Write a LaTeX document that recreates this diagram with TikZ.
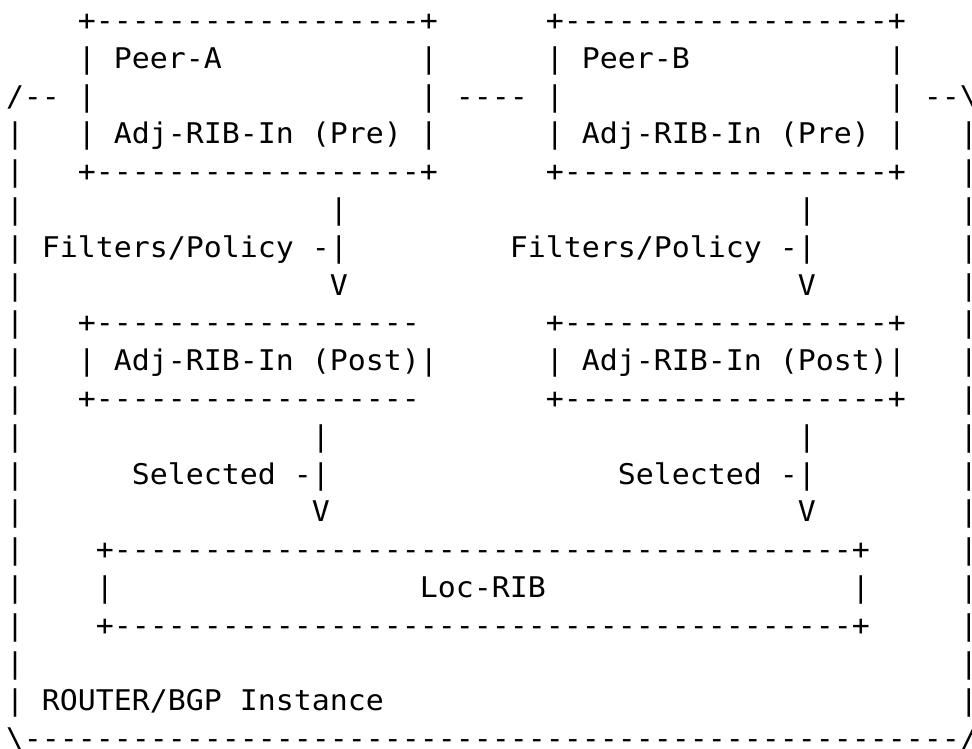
\documentclass[tikz,border=0pt]{standalone}
\usepackage{fontspec}
\newfontfamily\asciifont{DejaVu Sans Mono}[Ligatures=TeXOff, FakeStretch=1.049]
\ExplSyntaxOn
\cs_new:Npn \myrep #1#2 { \prg_replicate:nn {#1} {#2} }
\ExplSyntaxOff
\newlength\cw
\AtBeginDocument{\settowidth{\cw}{\asciifont\fontsize{28.5pt}{37.8pt}\selectfont M}}
\newcommand\bl[1]{\hspace*{#1\cw}}
\newcommand\hy[1]{\myrep{#1}{-}}
\newcommand\lastc[1]{\rlap{#1}}
\tikzset{asciirow/.style={anchor=base west, inner sep=0pt, outer sep=0pt,
  font={\asciifont\fontsize{28.5pt}{37.8pt}\selectfont}, text=black}}
\begin{document}
\begin{tikzpicture}[x=1pt,y=1pt]
\fill[white] (0,0) rectangle (972,748);
\useasboundingbox (0,0) rectangle (972,748);
\node[asciirow] (r0)  at (6,717.5) {\bl{4}+\hy{18}+\bl{6}+\hy{18}+};
\node[asciirow] (r1)  at (6,679.7) {\bl{4}|\bl{1}Peer-A\bl{11}|\bl{6}|\bl{1}Peer-B\bl{11}|};
\node[asciirow] (r2)  at (6,641.9) {/\hy{2}\bl{1}|\bl{18}|\bl{1}\hy{4}\bl{1}|\bl{18}|\bl{1}\hy{2}\lastc{\textbackslash}};
\node[asciirow] (r3)  at (6,604.1) {|\bl{3}|\bl{1}Adj-RIB-In\bl{1}(Pre)\bl{1}|\bl{6}|\bl{1}Adj-RIB-In\bl{1}(Pre)\bl{1}|\bl{3}\lastc{|}};
\node[asciirow] (r4)  at (6,566.3) {|\bl{3}+\hy{18}+\bl{6}+\hy{18}+\bl{3}\lastc{|}};
\node[asciirow] (r5)  at (6,528.5) {|\bl{17}|\bl{25}|\bl{8}\lastc{|}};
\node[asciirow] (r6)  at (6,490.7) {|\bl{1}Filters/Policy\bl{1}-|\bl{9}Filters/Policy\bl{1}-|\bl{8}\lastc{|}};
\node[asciirow] (r7)  at (6,452.9) {|\bl{17}V\bl{25}V\bl{8}\lastc{|}};
\node[asciirow] (r8)  at (6,415.1) {|\bl{3}+\hy{18}\bl{7}+\hy{18}+\bl{3}\lastc{|}};
\node[asciirow] (r9)  at (6,377.3) {|\bl{3}|\bl{1}Adj-RIB-In\bl{1}(Post)|\bl{6}|\bl{1}Adj-RIB-In\bl{1}(Post)|\bl{3}\lastc{|}};
\node[asciirow] (r10) at (6,339.5) {|\bl{3}+\hy{18}\bl{7}+\hy{18}+\bl{3}\lastc{|}};
\node[asciirow] (r11) at (6,301.7) {|\bl{16}|\bl{26}|\bl{8}\lastc{|}};
\node[asciirow] (r12) at (6,263.9) {|\bl{6}Selected\bl{1}-|\bl{16}Selected\bl{1}-|\bl{8}\lastc{|}};
\node[asciirow] (r13) at (6,226.1) {|\bl{16}V\bl{26}V\bl{8}\lastc{|}};
\node[asciirow] (r14) at (6,188.3) {|\bl{4}+\hy{41}+\bl{5}\lastc{|}};
\node[asciirow] (r15) at (6,150.5) {|\bl{4}|\bl{17}Loc-RIB\bl{17}|\bl{5}\lastc{|}};
\node[asciirow] (r16) at (6,112.7) {|\bl{4}+\hy{41}+\bl{5}\lastc{|}};
\node[asciirow] (r17) at (6,74.9)  {|\bl{52}\lastc{|}};
\node[asciirow] (r18) at (6,37.1)  {|\bl{1}ROUTER/BGP\bl{1}Instance\bl{32}\lastc{|}};
\node[asciirow] (r19) at (6,-0.7)  {\textbackslash\hy{52}\lastc{/}};
\end{tikzpicture}
\end{document}
